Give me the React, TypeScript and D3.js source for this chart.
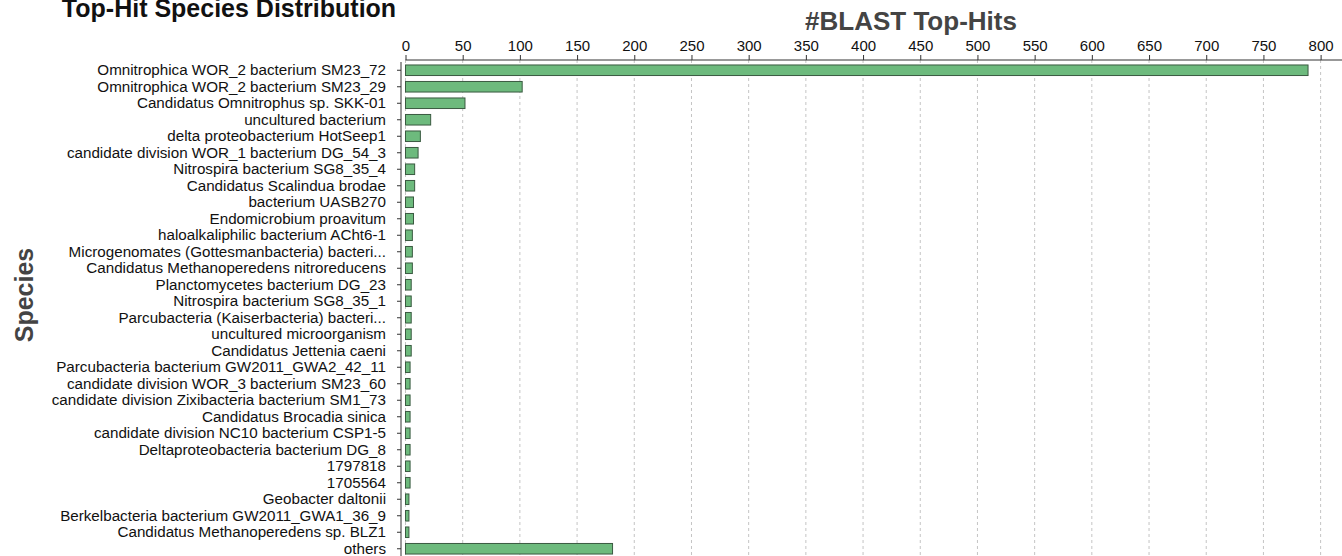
import { useEffect, useRef } from "react";
import * as d3 from "d3";

const species: string[] = [
  "Omnitrophica WOR_2 bacterium SM23_72",
  "Omnitrophica WOR_2 bacterium SM23_29",
  "Candidatus Omnitrophus sp. SKK-01",
  "uncultured bacterium",
  "delta proteobacterium HotSeep1",
  "candidate division WOR_1 bacterium DG_54_3",
  "Nitrospira bacterium SG8_35_4",
  "Candidatus Scalindua brodae",
  "bacterium UASB270",
  "Endomicrobium proavitum",
  "haloalkaliphilic bacterium ACht6-1",
  "Microgenomates (Gottesmanbacteria) bacteri...",
  "Candidatus Methanoperedens nitroreducens",
  "Planctomycetes bacterium DG_23",
  "Nitrospira bacterium SG8_35_1",
  "Parcubacteria (Kaiserbacteria) bacteri...",
  "uncultured microorganism",
  "Candidatus Jettenia caeni",
  "Parcubacteria bacterium GW2011_GWA2_42_11",
  "candidate division WOR_3 bacterium SM23_60",
  "candidate division Zixibacteria bacterium SM1_73",
  "Candidatus Brocadia sinica",
  "candidate division NC10 bacterium CSP1-5",
  "Deltaproteobacteria bacterium DG_8",
  "1797818",
  "1705564",
  "Geobacter daltonii",
  "Berkelbacteria bacterium GW2011_GWA1_36_9",
  "Candidatus Methanoperedens sp. BLZ1",
  "others",
];

const hits: number[] = [
  789, 102, 52, 22, 13, 11, 8, 8, 7, 7, 6, 6, 6, 5, 5, 5, 5, 5, 4, 4, 4, 4, 4,
  4, 4, 4, 3, 3, 3, 181,
];

const xTicks: number[] = [
  0, 50, 100, 150, 200, 250, 300, 350, 400, 450, 500, 550, 600, 650, 700, 750,
  800,
];

const FONT = "'Liberation Sans', Arial, Helvetica, sans-serif";

export default function App() {
  const svgRef = useRef<SVGSVGElement | null>(null);

  useEffect(() => {
    if (!svgRef.current) return;
    const width = 1342;
    const height = 556;

    const svg = d3.select(svgRef.current);
    svg.selectAll("*").remove();
    svg.attr("width", width).attr("height", height);

    const rows = species.map((name, i) => ({ name, value: hits[i] }));

    const x = d3.scaleLinear().domain([0, 820]).range([405.5, 1343.5]);
    const y = d3
      .scaleBand()
      .domain(species)
      .range([62, 557])
      .paddingInner(0.36)
      .paddingOuter(0.18);

    const axisTop = 60;
    const yAxisX = 401;

    // grid
    svg
      .append("g")
      .selectAll("line")
      .data(xTicks)
      .enter()
      .append("line")
      .attr("x1", (d) => x(d))
      .attr("x2", (d) => x(d))
      .attr("y1", axisTop)
      .attr("y2", height)
      .attr("stroke", "#c4c4c4")
      .attr("stroke-width", 1)
      .attr("stroke-dasharray", "3,3");

    // bars
    svg
      .append("g")
      .selectAll("rect")
      .data(rows)
      .enter()
      .append("rect")
      .attr("x", x(0))
      .attr("y", (d) => y(d.name)!)
      .attr("width", (d) => x(d.value) - x(0))
      .attr("height", y.bandwidth())
      .attr("fill", "#6dba7d")
      .attr("stroke", "#3a5a41")
      .attr("stroke-width", 1);

    // x axis (top)
    const xAxis = svg
      .append("g")
      .attr("transform", `translate(0,${axisTop})`)
      .call(d3.axisTop(x).tickValues(xTicks).tickSize(5).tickPadding(4));
    xAxis.select(".domain").attr("stroke", "#333").attr("d", `M${x(0)},0H${width}`);
    xAxis.selectAll(".tick line").attr("stroke", "#333");
    xAxis
      .selectAll("text")
      .attr("font-family", FONT)
      .attr("font-size", 15)
      .attr("fill", "#111");

    // y axis (left)
    const yAxis = svg
      .append("g")
      .attr("transform", `translate(${yAxisX},0)`)
      .call(d3.axisLeft(y).tickSize(4).tickPadding(11));
    yAxis
      .select(".domain")
      .attr("stroke", "#333")
      .attr("d", `M0,${62}V${height}`);
    yAxis.selectAll(".tick line").attr("stroke", "#333");
    yAxis
      .selectAll("text")
      .attr("font-family", FONT)
      .attr("font-size", 15.2)
      .attr("fill", "#111");

    // titles
    svg
      .append("text")
      .text("Top-Hit Species Distribution")
      .attr("x", 229)
      .attr("y", 17)
      .attr("text-anchor", "middle")
      .attr("font-family", FONT)
      .attr("font-weight", "bold")
      .attr("font-size", 25)
      .attr("fill", "#111");

    svg
      .append("text")
      .text("#BLAST Top-Hits")
      .attr("x", 911)
      .attr("y", 30)
      .attr("text-anchor", "middle")
      .attr("font-family", FONT)
      .attr("font-weight", "bold")
      .attr("font-size", 26)
      .attr("fill", "#444");

    svg
      .append("text")
      .text("Species")
      .attr("transform", `translate(33,295) rotate(-90)`)
      .attr("text-anchor", "middle")
      .attr("font-family", FONT)
      .attr("font-weight", "bold")
      .attr("font-size", 25)
      .attr("fill", "#444");
  }, []);

  return (
    <svg
      ref={svgRef}
      style={{ position: "absolute", left: 0, top: 0, background: "#fff" }}
    />
  );
}
